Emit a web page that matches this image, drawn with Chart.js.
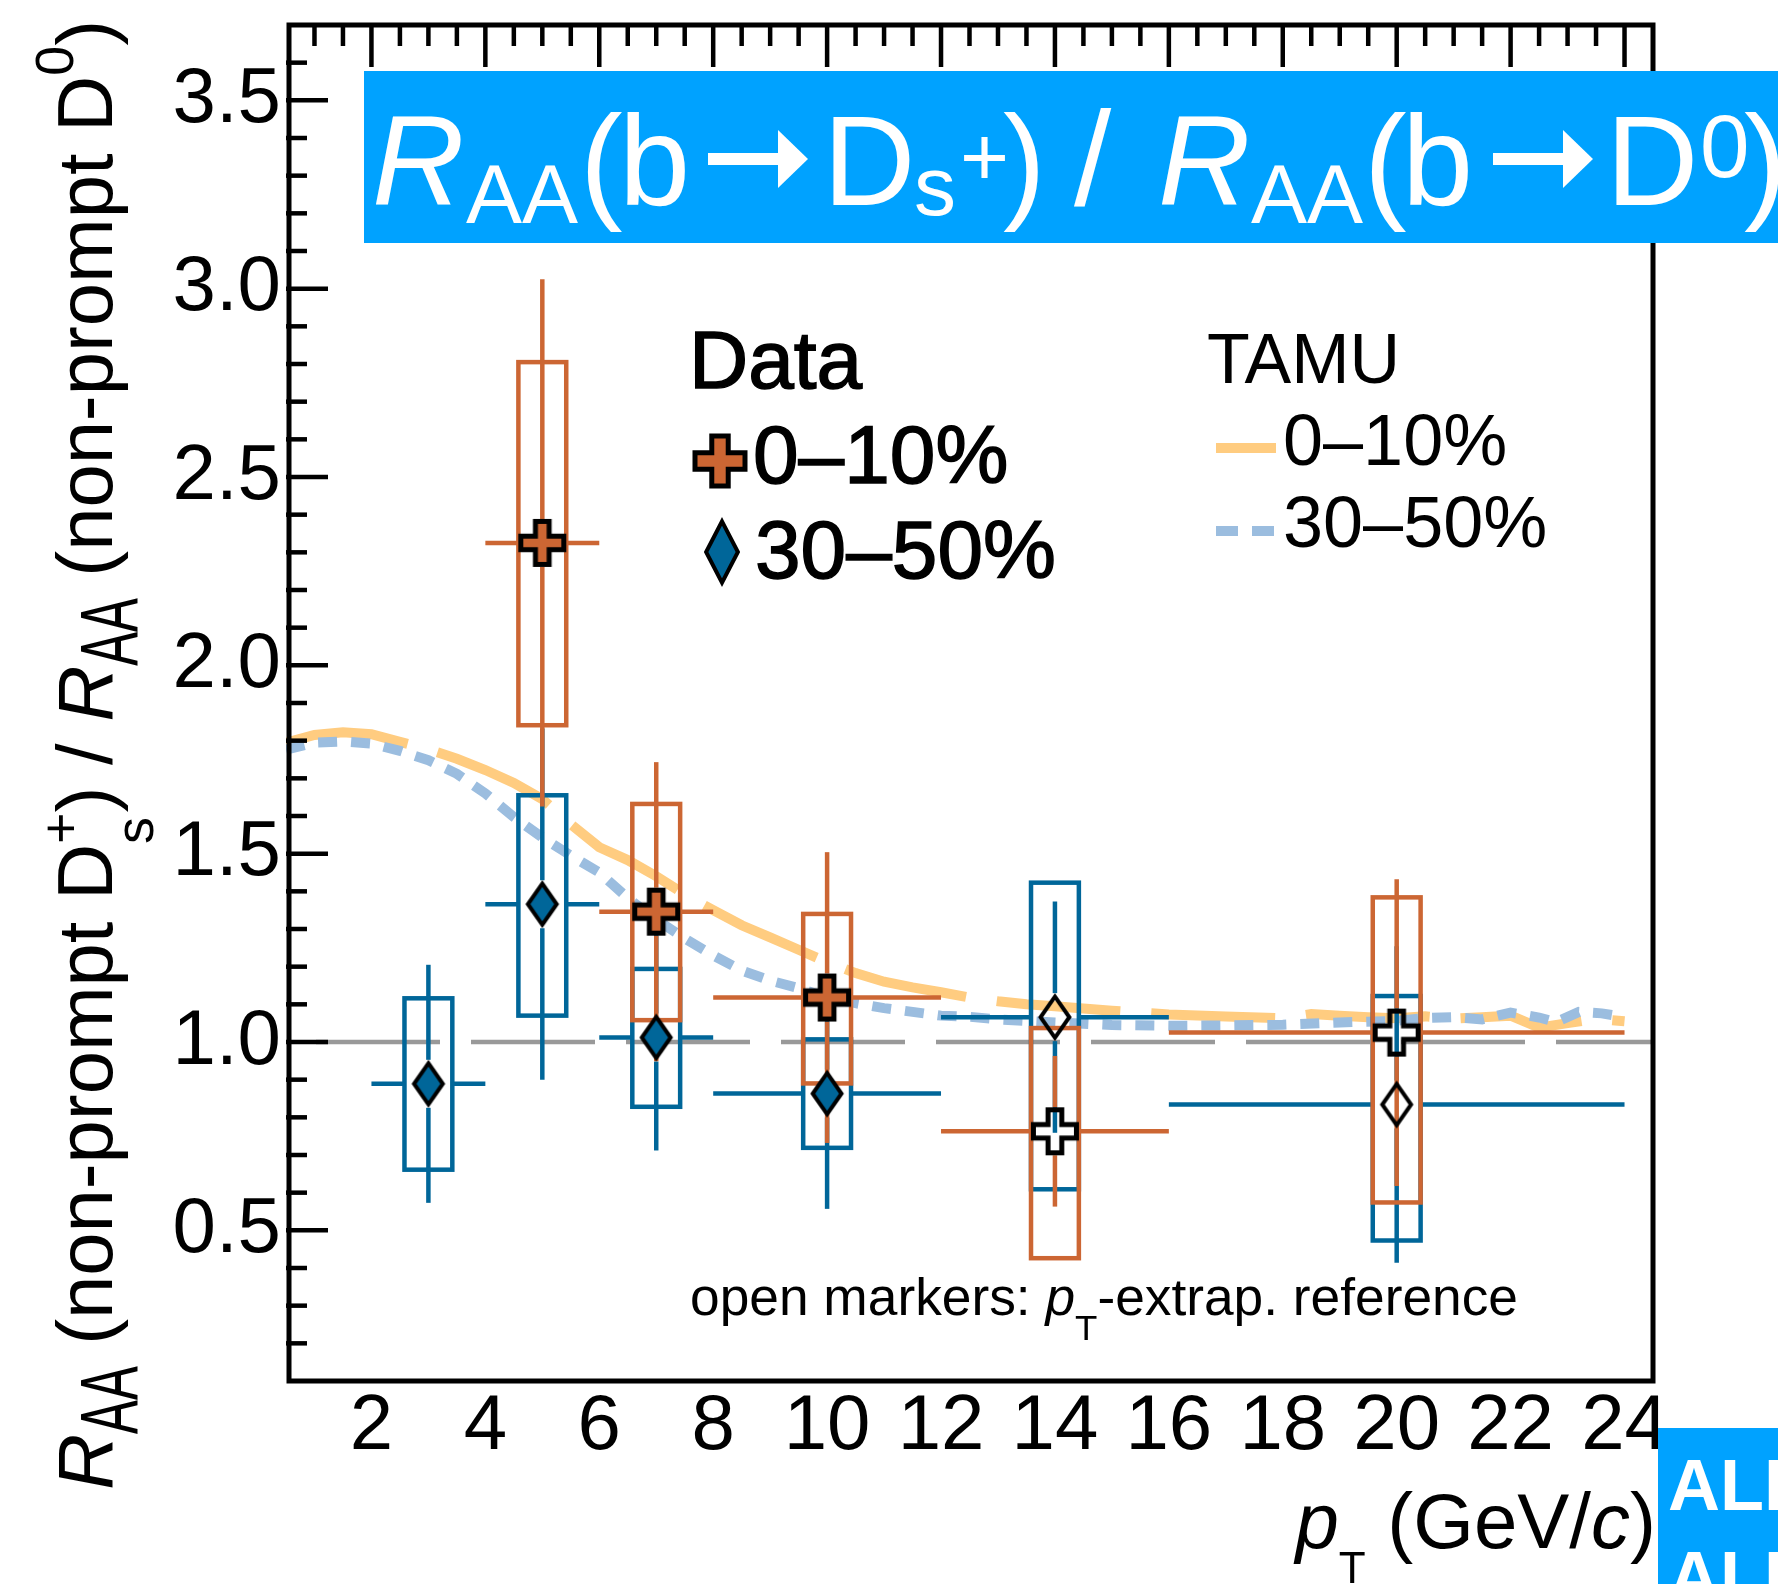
<!DOCTYPE html>
<html>
<head>
<meta charset="utf-8">
<title>RAA non-prompt Ds / D0</title>
<script src="https://cdn.jsdelivr.net/npm/chart.js@4.4.1/dist/chart.umd.min.js"></script>
<style>
  html, body { margin: 0; padding: 0; background: #fff; }
  canvas { display: block; }
</style>
</head>
<body>
<canvas id="chart" width="1778" height="1584"></canvas>
<script>
// pT bins of the measurement (GeV/c)
const ptCenters = [3, 5, 7, 10, 14, 20];
const ptLow = [2, 4, 6, 8, 12, 16];
const ptHigh = [4, 6, 8, 12, 16, 24];

// 0–10% (no point in the 2–4 bin)
const ratio010 = [null, 2.325, 1.346, 1.118, 0.763, 1.025];
const stat010 = [null, 0.700, 0.397, 0.386, 0.200, 0.407];
const systLow010 = [null, 1.841, 1.058, 0.890, 0.426, 0.574];
const systHigh010 = [null, 2.805, 1.632, 1.340, 1.037, 1.384];
const open010 = [false, false, false, false, true, true];

// 30–50%
const ratio3050 = [0.889, 1.366, 1.012, 0.863, 1.066, 0.834];
const stat3050 = [0.316, 0.466, 0.300, 0.306, 0.307, 0.420];
const systLow3050 = [0.661, 1.070, 0.828, 0.719, 0.609, 0.473];
const systHigh3050 = [1.116, 1.655, 1.194, 1.007, 1.423, 1.122];
const open3050 = [false, false, false, false, true, true];

// TAMU curves
const tamuPt010 = [0.5, 1.0, 1.5, 2.0, 2.5, 3.0, 3.5, 4.0, 4.5, 5.0, 5.5, 6.0, 6.5, 7.0, 7.5, 8.0, 8.5, 9.0, 9.5, 10.0,
  10.5, 11.0, 11.5, 12.0, 12.5, 13.0, 13.5, 14.0, 15.0, 16.0, 17.0, 18.0, 18.5, 19.0, 19.5, 20.0, 20.5, 21.0, 21.5,
  22.0, 22.5, 23.0, 23.5, 24.0];
const tamu010 = [1.795, 1.815, 1.822, 1.817, 1.797, 1.777, 1.752, 1.722, 1.688, 1.645, 1.578, 1.517, 1.483, 1.440,
  1.392, 1.350, 1.310, 1.278, 1.245, 1.212, 1.183, 1.160, 1.145, 1.132, 1.118, 1.108, 1.100, 1.095, 1.083, 1.073,
  1.068, 1.063, 1.074, 1.070, 1.066, 1.063, 1.068, 1.062, 1.066, 1.070, 1.038, 1.050, 1.062, 1.055];
const tamuPt3050 = [0.5, 1.0, 1.5, 2.0, 2.5, 3.0, 3.5, 4.0, 4.5, 5.0, 5.5, 6.0, 6.5, 7.0, 7.5, 8.0, 8.5, 9.0, 9.5, 10.0,
  10.5, 11.0, 11.5, 12.0, 12.5, 13.0, 14.0, 15.0, 16.0, 17.0, 18.0, 19.0, 20.0, 20.5, 21.0, 21.5, 22.0, 22.5, 22.8,
  23.2, 23.6, 24.0];
const tamu3050 = [1.776, 1.795, 1.798, 1.792, 1.773, 1.748, 1.712, 1.660, 1.597, 1.543, 1.495, 1.450, 1.382, 1.325,
  1.275, 1.230, 1.190, 1.163, 1.143, 1.118, 1.103, 1.090, 1.080, 1.070, 1.067, 1.060, 1.052, 1.045, 1.043, 1.044,
  1.046, 1.052, 1.056, 1.064, 1.066, 1.060, 1.078, 1.065, 1.053, 1.080, 1.076, 1.066];

// line at unity
const unityX = [0.5, 24.5];
const unityY = [1, 1];

const xTicks = [2, 4, 6, 8, 10, 12, 14, 16, 18, 20, 22, 24];
const yTicks = [0.5, 1.0, 1.5, 2.0, 2.5, 3.0, 3.5];

// ---- styles ----
const FONT = '"Liberation Sans", Arial, Helvetica, sans-serif';
const ORANGE = '#cc6633';
const BLUE = '#006699';
const ORANGE_LIGHT = '#ffcc80';
const BLUE_LIGHT = '#9bbddf';
const CYAN = '#00a2ff';
const BOX_HALF = 0.42;   // half width of the syst. boxes (GeV/c)
const BAR_GAP = 24;      // error bars stop at the marker edge

function crossPath(ctx, cx, cy, size, arm) {
  const h = size / 2, a = arm / 2;
  ctx.beginPath();
  ctx.moveTo(cx - a, cy - h); ctx.lineTo(cx + a, cy - h); ctx.lineTo(cx + a, cy - a);
  ctx.lineTo(cx + h, cy - a); ctx.lineTo(cx + h, cy + a); ctx.lineTo(cx + a, cy + a);
  ctx.lineTo(cx + a, cy + h); ctx.lineTo(cx - a, cy + h); ctx.lineTo(cx - a, cy + a);
  ctx.lineTo(cx - h, cy + a); ctx.lineTo(cx - h, cy - a); ctx.lineTo(cx - a, cy - a);
  ctx.closePath();
}

function diamondPath(ctx, cx, cy, w, h) {
  ctx.beginPath();
  ctx.moveTo(cx, cy - h / 2); ctx.lineTo(cx + w / 2, cy);
  ctx.lineTo(cx, cy + h / 2); ctx.lineTo(cx - w / 2, cy);
  ctx.closePath();
}

function drawMarker(ctx, kind, cx, cy, w, h, fill, lw) {
  ctx.save();
  if (kind === 'cross') crossPath(ctx, cx, cy, w - lw, w * 0.39 - lw);
  else diamondPath(ctx, cx, cy, w - lw * 1.3, h - lw * 2.2);
  if (fill) { ctx.fillStyle = fill; ctx.fill(); }
  ctx.lineJoin = 'miter';
  ctx.lineWidth = lw;
  ctx.strokeStyle = '#000';
  ctx.stroke();
  ctx.restore();
}

function markerImage(kind, w, h, fill, lw) {
  const c = document.createElement('canvas');
  c.width = w + 6; c.height = h + 6;
  drawMarker(c.getContext('2d'), kind, c.width / 2, c.height / 2, w, h, fill, lw);
  return c;
}

const crossFilled = markerImage('cross', 48, 48, ORANGE, 5);
const crossOpen = markerImage('cross', 48, 48, null, 5);
const diamondFilled = markerImage('diamond', 34, 50, BLUE, 4);
const diamondOpen = markerImage('diamond', 34, 50, null, 4);

// rich text: parts {t, s, it, dy, sx, adv}
function richRun(ctx, parts, x, y, draw) {
  let cx = x;
  for (const p of parts) {
    ctx.font = (p.it ? 'italic ' : '') + (p.b ? 'bold ' : '') + p.s + 'px ' + FONT;
    const sx = p.sx || 1;
    const w = ctx.measureText(p.t).width * sx;
    if (draw) {
      ctx.save();
      ctx.translate(cx, y + (p.dy || 0));
      ctx.scale(sx, 1);
      ctx.fillText(p.t, 0, 0);
      ctx.restore();
    }
    if (p.adv !== false) cx += w;
  }
  return cx - x;
}

// draw rich text from x0 so that it ends at x1
function richFit(ctx, parts, x0, x1, y) {
  const w = richRun(ctx, parts, 0, 0, false);
  ctx.save();
  ctx.translate(x0, y);
  ctx.scale((x1 - x0) / w, 1);
  richRun(ctx, parts, 0, 0, true);
  ctx.restore();
}

const yTitleParts = [
  {t: 'R', s: 78, it: true},
  {t: 'AA', s: 82, dy: 25, sx: 0.62},
  {t: ' (non-prompt D', s: 78},
  {t: 's', s: 54, dy: 41, adv: false},
  {t: '+', s: 54, dy: -33},
  {t: ')', s: 78},
  {t: ' / ', s: 78},
  {t: 'R', s: 78, it: true},
  {t: 'AA', s: 82, dy: 25, sx: 0.62},
  {t: ' (non-prompt D', s: 78},
  {t: '0', s: 54, dy: -39},
  {t: ')', s: 78}
];

const xTitleParts = [
  {t: 'p', s: 78, it: true},
  {t: 'T', s: 44, dy: 35},
  {t: ' (GeV/', s: 78},
  {t: 'c', s: 78, it: true},
  {t: ')', s: 78}
];

const noteParts = [
  {t: 'open markers: ', s: 51},
  {t: 'p', s: 51, it: true},
  {t: 'T', s: 35, dy: 25},
  {t: '-extrap. reference', s: 51}
];

function seg(ctx, x0, y0, x1, y1) {
  if (Math.abs(x1 - x0) < 0.5 && (y1 - y0) <= 0) return;
  if (Math.abs(y1 - y0) < 0.5 && (x1 - x0) <= 0) return;
  ctx.beginPath(); ctx.moveTo(x0, y0); ctx.lineTo(x1, y1); ctx.stroke();
}

function drawErrors(chart, central, stat, lo, hi, color) {
  const ctx = chart.ctx, xs = chart.scales.x, ys = chart.scales.y;
  ctx.save();
  ctx.strokeStyle = color;
  ctx.lineWidth = 4.5;
  for (let i = 0; i < ptCenters.length; i++) {
    if (central[i] === null) continue;
    const cx = xs.getPixelForValue(ptCenters[i]);
    const cy = ys.getPixelForValue(central[i]);
    const bx0 = xs.getPixelForValue(ptCenters[i] - BOX_HALF);
    const bx1 = xs.getPixelForValue(ptCenters[i] + BOX_HALF);
    const by0 = ys.getPixelForValue(hi[i]);
    const by1 = ys.getPixelForValue(lo[i]);
    ctx.strokeRect(bx0, by0, bx1 - bx0, by1 - by0);
    seg(ctx, cx, ys.getPixelForValue(central[i] + stat[i]), cx, cy - BAR_GAP);
    seg(ctx, cx, cy + BAR_GAP, cx, ys.getPixelForValue(central[i] - stat[i]));
    seg(ctx, xs.getPixelForValue(ptLow[i]), cy, cx - BAR_GAP, cy);
    seg(ctx, cx + BAR_GAP, cy, xs.getPixelForValue(ptHigh[i]), cy);
  }
  ctx.restore();
}

const errorPlugin = {
  id: 'errorBoxes',
  beforeDatasetDraw(chart, args) {
    if (chart.data.datasets[args.index].kind !== 'data3050') return;
    drawErrors(chart, ratio3050, stat3050, systLow3050, systHigh3050, BLUE);
    drawErrors(chart, ratio010, stat010, systLow010, systHigh010, ORANGE);
  }
};

function legendText(ctx, t, x, y) {
  ctx.lineWidth = 1.5;
  ctx.fillText(t, x, y);
  ctx.strokeText(t, x, y);
}

const framePlugin = {
  id: 'frame',
  afterDatasetsDraw(chart) {
    const ctx = chart.ctx, a = chart.chartArea, xs = chart.scales.x, ys = chart.scales.y;
    ctx.save();
    ctx.strokeStyle = '#000';
    ctx.lineWidth = 4.5;
    const major = 42, minor = 21;
    for (let v = 1.0; v < 24.5; v += 0.5) {
      const px = xs.getPixelForValue(v);
      const len = xTicks.includes(v) ? major : minor;
      seg(ctx, px, a.bottom, px, a.bottom - len);
      seg(ctx, px, a.top, px, a.top + len);
    }
    for (let k = 2; k <= 36; k++) {
      const v = k / 10;
      const py = ys.getPixelForValue(v);
      const len = yTicks.some(t => Math.abs(t - v) < 1e-6) ? major : minor;
      seg(ctx, a.left, py, a.left + len, py);
      seg(ctx, a.right, py, a.right - len, py);
    }
    ctx.lineWidth = 5;
    ctx.strokeRect(a.left + 3, a.top, a.right - a.left - 3, a.bottom - a.top);
    ctx.restore();
  },
  afterDraw(chart) {
    const ctx = chart.ctx;
    ctx.save();
    ctx.fillStyle = '#000';
    ctx.strokeStyle = '#000';
    ctx.textBaseline = 'alphabetic';

    // data legend
    ctx.font = '82px ' + FONT;
    legendText(ctx, 'Data', 689, 388);
    drawMarker(ctx, 'cross', 720, 461, 55, 55, ORANGE, 5);
    legendText(ctx, '0–10%', 753, 483);
    drawMarker(ctx, 'diamond', 722, 552, 37, 70, BLUE, 4);
    legendText(ctx, '30–50%', 755, 578);

    // model legend
    ctx.font = '70px ' + FONT;
    ctx.fillText('TAMU', 1207, 383);
    ctx.font = '72px ' + FONT;
    ctx.fillText('0–10%', 1283, 465);
    ctx.fillText('30–50%', 1283, 547);
    ctx.lineWidth = 10;
    ctx.strokeStyle = ORANGE_LIGHT;
    seg(ctx, 1216, 448, 1276, 448);
    ctx.strokeStyle = BLUE_LIGHT;
    seg(ctx, 1216, 531, 1238, 531);
    seg(ctx, 1252, 531, 1274, 531);

    // note
    ctx.fillStyle = '#000';
    richFit(ctx, noteParts, 690, 1518, 1315);

    // axis titles
    const xw = richRun(ctx, xTitleParts, 0, 0, false);
    richRun(ctx, xTitleParts, 1656 - xw, 1548, true);
    ctx.save();
    ctx.translate(112, 1490);
    ctx.rotate(-Math.PI / 2);
    richFit(ctx, yTitleParts, 0, 1470, 0);
    ctx.restore();

    // title banner
    ctx.fillStyle = CYAN;
    ctx.fillRect(364, 71, 1778 - 364, 172);
    ctx.fillStyle = '#fff';
    const big = 'px ' + FONT;
    const title = [
      ['R', 372, 205, 128, true], ['AA', 466, 223, 84, false], ['(', 580, 205, 128, false],
      ['b', 619, 205, 128, false], ['D', 823, 205, 128, false], ['s', 914, 215, 84, false],
      ['+', 960, 185, 84, false], [')', 1003, 205, 128, false], ['/', 1074, 205, 134, false],
      ['R', 1158, 205, 128, true], ['AA', 1251, 223, 84, false], ['(', 1364, 205, 128, false],
      ['b', 1402, 205, 128, false], ['D', 1606, 205, 128, false], ['0', 1700, 177, 89, false],
      [')', 1744, 205, 128, false]
    ];
    for (const [t, x, y, s, it] of title) {
      ctx.font = (it ? 'italic ' : '') + s + big;
      ctx.fillText(t, x, y);
    }
    for (const x0 of [708, 1493]) {
      ctx.fillRect(x0, 153, 72, 12);
      ctx.beginPath();
      ctx.moveTo(x0 + 70, 130); ctx.lineTo(x0 + 100, 159); ctx.lineTo(x0 + 70, 188);
      ctx.closePath(); ctx.fill();
    }

    // experiment label
    ctx.fillStyle = CYAN;
    ctx.fillRect(1658, 1428, 120, 156);
    ctx.fillStyle = '#fff';
    ctx.font = 'bold 72px ' + FONT;
    ctx.fillText('ALICE', 1668, 1510);
    ctx.fillText('ALICE', 1668, 1602);
    ctx.restore();
  }
};

const pts = (xs, ys) => xs.map((x, i) => ({x, y: ys[i]}));

new Chart(document.getElementById('chart'), {
  type: 'scatter',
  data: {
    datasets: [
      {
        kind: 'unity', data: pts(unityX, unityY), showLine: true, order: 6,
        borderColor: '#999999', borderWidth: 4.5, borderDash: [124, 31], borderDashOffset: 125,
        pointRadius: 0
      },
      {
        kind: 'tamu010', data: pts(tamuPt010, tamu010), showLine: true, order: 4,
        borderColor: ORANGE_LIGHT, borderWidth: 10, borderDash: [124, 31], pointRadius: 0
      },
      {
        kind: 'tamu3050', data: pts(tamuPt3050, tamu3050), showLine: true, order: 3,
        borderColor: BLUE_LIGHT, borderWidth: 10, borderDash: [19, 14], pointRadius: 0
      },
      {
        kind: 'data3050', data: pts(ptCenters, ratio3050), order: 1, pointRadius: 24,
        pointStyle: open3050.map(o => o ? diamondOpen : diamondFilled)
      },
      {
        kind: 'data010', data: pts(ptCenters, ratio010), order: 0, pointRadius: 24,
        pointStyle: open010.map(o => o ? crossOpen : crossFilled)
      }
    ]
  },
  options: {
    responsive: false,
    devicePixelRatio: 1,
    animation: false,
    events: [],
    layout: { padding: { top: 19, right: 125, left: 0, bottom: 0 } },
    plugins: { legend: { display: false }, tooltip: { enabled: false } },
    scales: {
      x: {
        type: 'linear', min: 0.5, max: 24.5, position: 'bottom',
        grid: { display: false, drawTicks: false },
        border: { display: false },
        ticks: {
          font: { family: FONT, size: 78, lineHeight: 1 }, color: '#000',
          padding: 7, maxRotation: 0, minRotation: 0, autoSkip: false
        },
        afterBuildTicks: s => { s.ticks = xTicks.map(v => ({value: v})); },
        afterFit: s => { s.height = 203; s.paddingLeft = 0; s.paddingRight = 0; }
      },
      y: {
        type: 'linear', min: 0.1, max: 3.7,
        grid: { display: false, drawTicks: false },
        border: { display: false },
        ticks: {
          font: { family: FONT, size: 78, lineHeight: 1 }, color: '#000',
          padding: 5, callback: v => v.toFixed(1)
        },
        afterBuildTicks: s => { s.ticks = yTicks.map(v => ({value: v})); },
        afterFit: s => { s.width = 286; s.paddingTop = 0; s.paddingBottom = 0; }
      }
    }
  },
  plugins: [errorPlugin, framePlugin]
});
</script>
</body>
</html>
